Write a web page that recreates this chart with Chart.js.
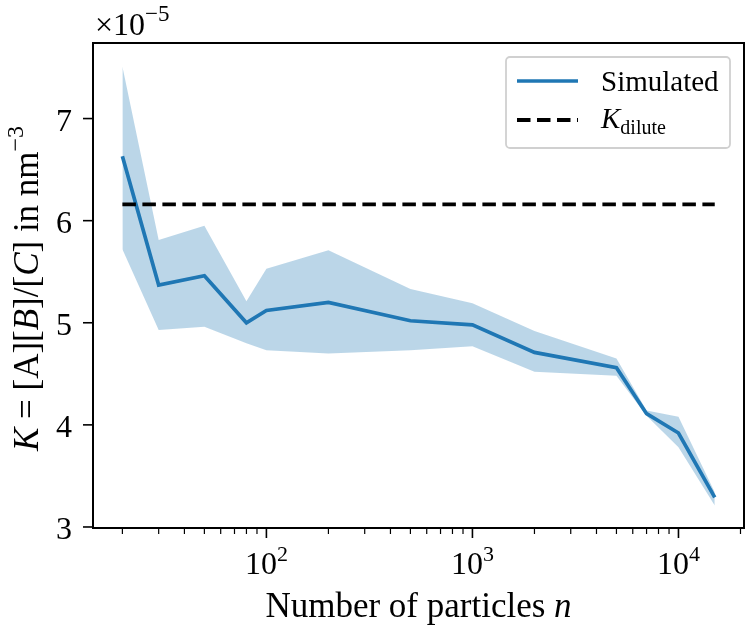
<!DOCTYPE html>
<html>
<head>
<meta charset="utf-8">
<script src="https://cdn.jsdelivr.net/npm/chart.js@4"></script>
<style>
    html, body { margin: 0; padding: 0; background: #fff; }
    #wrap { width: 750px; height: 628px; position: relative; }
</style>
</head>
<body>
<div id="wrap"><canvas id="kChart"></canvas></div>
<script>
// Data, K in units of 1e-5 nm^-3
const nParticles = [20, 30, 50, 80, 100, 200, 500, 1000, 2000, 5000, 7000, 10000, 15000];
const kMean  = [6.63, 5.37, 5.46, 5.00, 5.12, 5.20, 5.02, 4.98, 4.71, 4.56, 4.11, 3.92, 3.29];
const kUpper = [7.51, 5.81, 5.95, 5.21, 5.53, 5.71, 5.33, 5.19, 4.92, 4.65, 4.14, 4.08, 3.34];
const kLower = [5.72, 4.93, 4.96, 4.80, 4.73, 4.70, 4.73, 4.77, 4.52, 4.48, 4.09, 3.78, 3.21];
const kDilute = 6.16;

// Axis ticks
const yTicks = [3, 4, 5, 6, 7];
const xMajorTicks = [100, 1000, 10000];
const xMajorExp = ['2', '3', '4'];
const xMinorTicks = [20, 30, 40, 50, 60, 70, 80, 90,
    200, 300, 400, 500, 600, 700, 800, 900,
    2000, 3000, 4000, 5000, 6000, 7000, 8000, 9000, 20000];

const X_MIN = 14.4, X_MAX = 20800;
const Y_MIN = 2.99, Y_MAX = 7.74;

const SERIF = '"Liberation Serif", "DejaVu Serif", serif';
const C0 = '#1f77b4';
const BAND = 'rgba(31, 119, 180, 0.3)';
const DASH = [13.5, 6.5];

function font(size, italic) {
    return (italic ? 'italic ' : '') + size + 'px ' + SERIF;
}

// Rich text helpers (runs: {t, it, size, dy})
function runsWidth(ctx, runs, base) {
    let w = 0;
    runs.forEach(r => {
        ctx.font = font(r.size || base, r.it);
        w += ctx.measureText(r.t).width;
    });
    return w;
}

function drawRuns(ctx, runs, x, y, base) {
    runs.forEach(r => {
        ctx.font = font(r.size || base, r.it);
        ctx.fillText(r.t, x, y + (r.dy || 0));
        x += ctx.measureText(r.t).width;
    });
    return x;
}

const toXY = (ys) => nParticles.map((n, i) => ({ x: n, y: ys[i] }));

// Frame, ticks, labels, titles and legend drawn over the chart
const axesDecor = {
    id: 'axesDecor',
    afterDraw(chart) {
        const { ctx, chartArea: a, scales: { x, y } } = chart;
        ctx.save();
        ctx.strokeStyle = '#000';
        ctx.fillStyle = '#000';

        // frame
        ctx.lineWidth = 2;
        ctx.strokeRect(a.left, a.top, a.right - a.left, a.bottom - a.top);

        // x ticks
        ctx.lineWidth = 1.6;
        xMajorTicks.forEach(v => {
            const px = x.getPixelForValue(v);
            ctx.beginPath(); ctx.moveTo(px, a.bottom); ctx.lineTo(px, a.bottom + 10); ctx.stroke();
        });
        ctx.lineWidth = 1.2;
        xMinorTicks.forEach(v => {
            const px = x.getPixelForValue(v);
            ctx.beginPath(); ctx.moveTo(px, a.bottom); ctx.lineTo(px, a.bottom + 6); ctx.stroke();
        });

        // y ticks + labels
        ctx.lineWidth = 1.6;
        ctx.textAlign = 'left';
        ctx.textBaseline = 'alphabetic';
        yTicks.forEach(v => {
            const py = y.getPixelForValue(v);
            ctx.beginPath(); ctx.moveTo(a.left, py); ctx.lineTo(a.left - 10, py); ctx.stroke();
            ctx.font = font(32);
            const s = String(v);
            const w = ctx.measureText(s).width;
            ctx.fillText(s, a.left - 21 - w, py + 12);
        });

        // x tick labels 10^n
        xMajorTicks.forEach((v, i) => {
            const px = x.getPixelForValue(v);
            const runs = [{ t: '10' }, { t: xMajorExp[i], size: 22, dy: -13 }];
            const w = runsWidth(ctx, runs, 32);
            drawRuns(ctx, runs, px - w / 2, a.bottom + 46, 32);
        });

        // x title
        const xt = [{ t: 'Number of particles ' }, { t: 'n', it: true }];
        const xw = runsWidth(ctx, xt, 35);
        drawRuns(ctx, xt, (a.left + a.right) / 2 - xw / 2, 617, 35);

        // y title (rotated)
        const yt = [
            { t: 'K', it: true }, { t: ' = [A][' }, { t: 'B', it: true },
            { t: ']/[' }, { t: 'C', it: true }, { t: '] in nm' },
            { t: '\u22123', size: 24, dy: -15 }
        ];
        const yw = runsWidth(ctx, yt, 35);
        ctx.save();
        ctx.translate(38, (a.top + a.bottom) / 2 + 3);
        ctx.rotate(-Math.PI / 2);
        drawRuns(ctx, yt, -yw / 2, 0, 35);
        ctx.restore();

        // offset text
        drawRuns(ctx, [{ t: '\u00d710' }, { t: '\u22125', size: 23, dy: -14 }], a.left + 2, 35, 32);

        // legend
        const lx = 506, ly = 57, lw = 224, lh = 91;
        ctx.beginPath();
        ctx.roundRect(lx, ly, lw, lh, 4);
        ctx.fillStyle = 'rgba(255,255,255,0.8)';
        ctx.fill();
        ctx.strokeStyle = '#d0d0d0';
        ctx.lineWidth = 1.8;
        ctx.stroke();

        ctx.strokeStyle = C0;
        ctx.lineWidth = 3.7;
        ctx.beginPath(); ctx.moveTo(517, 81); ctx.lineTo(578, 81); ctx.stroke();
        ctx.fillStyle = '#000';
        drawRuns(ctx, [{ t: 'Simulated' }], 601, 91, 29);

        ctx.strokeStyle = '#000';
        ctx.lineWidth = 3.8;
        ctx.setLineDash(DASH);
        ctx.beginPath(); ctx.moveTo(517, 120); ctx.lineTo(578, 120); ctx.stroke();
        ctx.setLineDash([]);
        drawRuns(ctx, [{ t: 'K', it: true }, { t: 'dilute', size: 20, dy: 6 }], 601, 128, 29);

        ctx.restore();
    }
};

new Chart(document.getElementById('kChart'), {
    type: 'line',
    data: {
        datasets: [
            {
                label: 'K_dilute',
                data: [{ x: nParticles[0], y: kDilute }, { x: nParticles[nParticles.length - 1], y: kDilute }],
                borderColor: '#000',
                borderWidth: 3.8,
                borderDash: DASH,
                fill: false,
                order: 0
            },
            {
                label: 'Simulated',
                data: toXY(kMean),
                borderColor: C0,
                borderWidth: 3.7,
                fill: false,
                order: 1
            },
            {
                label: 'upper',
                data: toXY(kUpper),
                borderColor: 'rgba(0,0,0,0)',
                borderWidth: 0,
                backgroundColor: BAND,
                fill: 3,
                order: 2
            },
            {
                label: 'lower',
                data: toXY(kLower),
                borderColor: 'rgba(0,0,0,0)',
                borderWidth: 0,
                fill: false,
                order: 3
            }
        ]
    },
    options: {
        responsive: true,
        maintainAspectRatio: false,
        animation: false,
        layout: { padding: { left: 93, right: 6, top: 43, bottom: 100 } },
        elements: { point: { radius: 0 }, line: { tension: 0 } },
        plugins: {
            legend: { display: false },
            tooltip: { enabled: false }
        },
        scales: {
            x: { type: 'logarithmic', display: false, min: X_MIN, max: X_MAX },
            y: { type: 'linear', display: false, min: Y_MIN, max: Y_MAX }
        }
    },
    plugins: [axesDecor]
});
</script>
</body>
</html>
